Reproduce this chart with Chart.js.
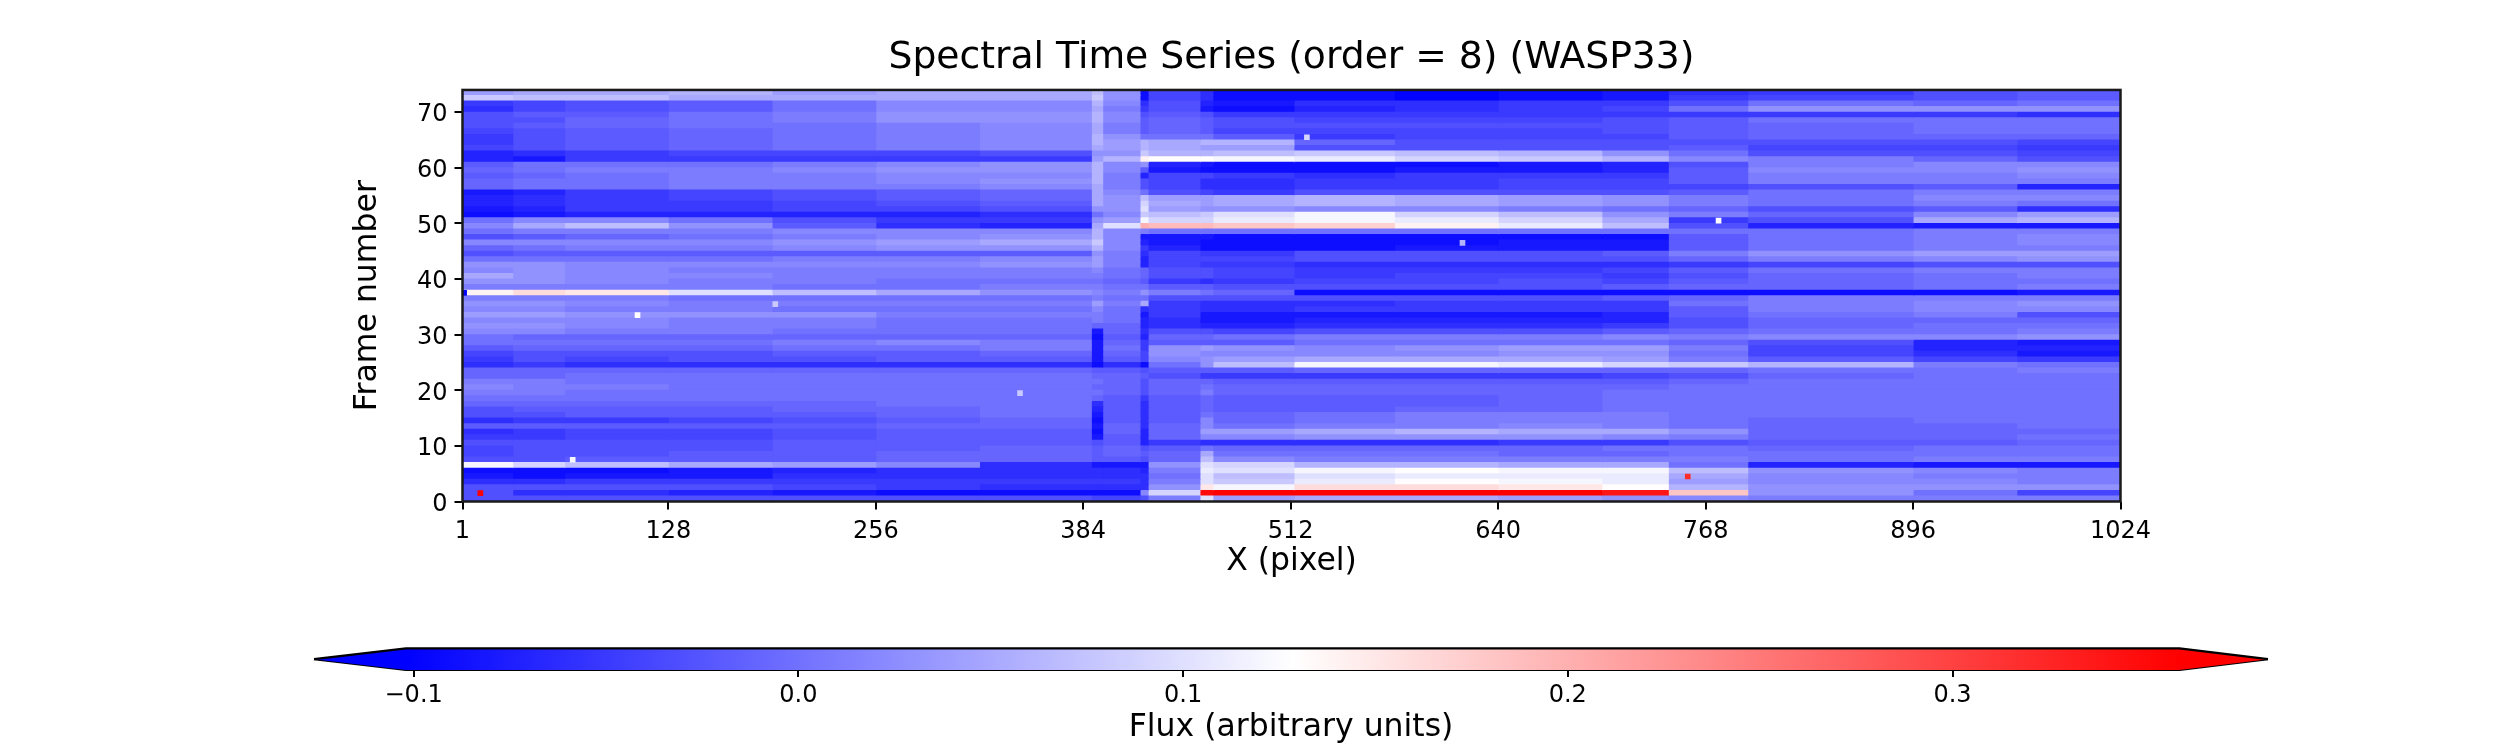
<!DOCTYPE html>
<html>
<head>
<meta charset="utf-8">
<title>Spectral Time Series</title>
<script src="https://cdn.jsdelivr.net/npm/chart.js@4"></script>
<style>
    html, body { margin: 0; padding: 0; background: #fff; width: 2520px; height: 750px; overflow: hidden; }
    canvas { position: absolute; left: 0; }
    #heatmap { top: 0; }
    #colorbar { top: 620px; }
</style>
</head>
<body>
<canvas id="heatmap" width="2520" height="600"></canvas>
<canvas id="colorbar" width="2520" height="130"></canvas>
<script>
// Column edges in X pixel (coarse bins)
const xEdges = [0, 32, 64, 128, 192, 256, 320, 389, 396, 419, 424, 456, 464, 514, 576, 640, 704, 745, 794, 896, 960, 1024];
const xTicks = [1, 128, 256, 384, 512, 640, 768, 896, 1024];
const yTicks = [0, 10, 20, 30, 40, 50, 60, 70];
const cbarTicks = [-0.1, 0, 0.1, 0.2, 0.3];

// Colour limits and extension tips of the colorbar
const vMin = -0.102;
const vMax = 0.359;
const tipMin = -0.1259;
const tipMax = 0.382;

// Frame numbers, top row first
const frames = [73,72,71,70,69,68,67,66,65,64,63,62,61,60,59,58,57,56,55,54,53,52,51,50,49,48,47,46,45,44,43,42,41,40,39,38,37,
    36,35,34,33,32,31,30,29,28,27,26,25,24,23,22,21,20,19,18,17,16,15,14,13,12,11,10,9,8,7,6,5,4,3,2,1,0];

// Flux x 100, one row per frame, one value per column bin
const flux = [
    [4,5,5,6,4,5,5,7,3,-9,-4,-6,-9,-9,-10,-9,-8,-6,-5,-3,-2],
    [8,7,7,5,5,5,5,8,3,-9,-4,-6,-9,-9,-10,-9,-8,-5,-4,-3,-2],
    [-5,-4,-3,-2,0,2,2,6,2,-6,-3,-7,-8,-6,-6,-5,-5,-3,0,-1,0],
    [-6,-4,-3,-2,0,2,2,5,1,-5,-3,-8,-9,-7,-6,-5,-4,0,3,3,3],
    [-3,-2,-2,0,1,3,3,6,2,-3,-2,-3,-5,-5,-5,-5,-5,-5,-5,-5,-6],
    [-3,-3,-1,0,1,3,3,6,2,-2,-1,-2,-3,-4,-4,-4,-3,-2,0,0,0],
    [-3,-2,-1,0,0,1,2,5,1,-2,-1,-2,-3,-3,-3,-3,-3,-2,-1,0,0],
    [-4,-3,-2,-1,0,1,2,5,1,-2,-1,-2,-4,-4,-4,-4,-3,-2,-1,0,0],
    [-5,-3,-2,-1,0,1,2,6,3,0,0,0,-2,-5,-4,-4,-4,-2,-1,-1,-1],
    [-5,-3,-2,-1,0,1,2,6,4,6,5,6,6,-1,-3,-3,-3,-3,-3,-3,-4],
    [-4,-3,-2,-1,0,1,2,5,4,6,5,4,4,-3,-3,-3,-3,-2,-4,-4,-5],
    [-7,-6,-5,-4,-4,-4,-3,3,3,8,6,6,7,8,7,6,3,0,-3,-3,-4],
    [-7,-8,-5,-5,-5,-5,-5,4,6,14,13,13,12,11,9,8,6,2,1,-1,-3],
    [-2,0,0,0,1,2,3,6,2,3,-7,-8,-9,-9,-9,-8,-7,-3,1,2,2],
    [-1,0,1,1,2,3,3,6,2,-2,-8,-9,-9,-9,-8,-8,-7,-2,2,2,3],
    [-2,-1,0,1,1,2,2,6,1,-7,-4,-4,-5,-6,-5,-5,-5,-2,1,1,2],
    [-1,0,0,1,1,2,3,6,1,-3,-4,-6,-6,-5,-5,-4,-4,-2,1,1,1],
    [-1,0,0,1,1,1,2,5,1,-3,-4,-6,-6,-5,-5,-4,-4,-4,-3,-2,-7],
    [-8,-7,-5,-4,-3,-2,-1,5,2,0,-3,-4,-5,-3,-3,-3,-3,-2,0,1,1],
    [-7,-6,-5,-4,-3,-2,-1,5,3,7,4,4,5,6,5,4,3,1,0,2,2],
    [-7,-6,-5,-5,-4,-3,-2,5,3,9,5,4,5,6,5,4,3,1,0,1,0],
    [-8,-7,-5,-5,-4,-4,-3,3,3,10,4,3,3,2,2,1,0,-1,-3,-2,-6],
    [-9,-8,-7,-7,-7,-7,-6,0,2,8,7,8,10,12,9,7,3,1,-1,2,4],
    [0,2,2,0,-3,-5,-5,3,4,12,9,9,11,12,11,9,5,-5,-3,5,6],
    [2,5,7,3,-2,-6,-7,5,10,20,19,19,18,17,14,11,7,-3,-7,-8,-8],
    [0,1,1,1,2,2,2,6,2,1,0,0,0,0,0,0,0,0,0,1,1],
    [-3,-2,-1,0,1,2,3,6,2,-8,-8,-8,-9,-9,-9,-9,-9,-2,0,1,2],
    [2,2,2,2,3,4,5,8,2,-7,-8,-9,-9,-9,-9,-8,-8,-2,0,1,2],
    [-1,0,1,1,2,3,3,6,2,-5,-7,-9,-9,-9,-8,-8,-8,-2,0,1,1],
    [-3,-2,-2,-2,-2,-2,-2,3,1,-6,-4,-5,-5,-3,-3,-3,-2,1,3,4,4],
    [0,0,0,0,1,1,2,4,1,-7,-4,-4,-4,-3,-3,-3,-3,-1,1,2,3],
    [3,3,2,2,2,2,3,4,1,-7,-4,-5,-5,-6,-6,-6,-6,-5,-4,-3,-3],
    [2,3,2,1,1,1,1,2,0,-1,-3,-3,-4,-5,-5,-5,-4,-2,0,1,1],
    [5,3,2,2,1,1,1,1,0,-1,-3,-3,-4,-5,-4,-4,-5,-3,-1,0,1],
    [3,3,2,1,1,0,0,0,-1,-2,-5,-6,-5,-4,-4,-3,-4,-2,-1,0,0],
    [1,1,1,1,0,0,1,1,0,0,-2,-2,-3,-3,-3,-3,-2,-1,-1,0,1],
    [14,16,15,10,7,5,3,2,1,3,1,0,-1,-9,-9,-9,-9,-9,-9,-9,-8],
    [1,1,1,0,0,0,0,1,0,0,-3,-3,-3,-3,-3,-3,-2,-1,1,1,1],
    [3,3,2,1,1,1,1,4,1,5,-5,-6,-6,-6,-5,-5,-5,0,1,2,3],
    [2,2,1,1,0,0,0,2,0,-6,-5,-6,-6,-5,-5,-5,-5,-2,1,2,2],
    [4,4,3,3,3,1,1,1,0,-8,-5,-8,-8,-8,-8,-8,-7,-2,0,1,-3],
    [2,2,2,1,1,0,0,1,0,-7,-6,-8,-8,-7,-7,-7,-7,-3,-1,-1,-1],
    [3,3,2,1,1,0,0,-1,-1,-7,-6,-7,-7,-6,-6,-6,-5,-3,-1,0,0],
    [2,2,1,1,0,0,0,-8,-1,-6,-3,-3,-4,-3,-3,-3,-2,-1,0,0,1],
    [0,-1,-1,-1,-1,-1,-1,-9,-2,-7,-1,-1,0,1,1,1,2,1,2,2,3],
    [0,0,0,0,1,2,1,-8,-1,-5,-2,-2,-2,0,0,0,0,-1,-3,-7,-8],
    [-2,-1,-1,-1,0,0,1,-8,0,-5,3,4,3,2,3,4,4,1,-4,-7,-7],
    [-4,-3,-3,-3,-2,-2,-1,-8,-1,-4,3,2,2,2,2,3,3,0,-4,-6,-8],
    [-5,-3,-4,-3,-3,-2,-2,-8,-2,-4,2,3,4,5,5,5,4,1,-2,-4,-5],
    [-6,-5,-6,-6,-6,-6,-6,-9,-6,-9,0,3,7,12,12,11,9,8,6,1,0],
    [-1,-1,-1,-1,-1,-1,-1,-2,-2,-3,-2,-2,-2,-1,-1,-1,-1,-1,0,0,1],
    [-1,-1,0,0,0,0,0,-1,-1,-2,-3,-5,-5,-5,-5,-5,-4,-3,-1,0,0],
    [1,1,0,0,0,0,0,0,-1,-3,-1,-1,-2,-2,-2,-2,-2,-1,0,0,0],
    [2,1,1,0,0,0,0,-1,-1,-3,-1,0,-1,-1,-1,-1,-1,0,0,0,0],
    [1,1,0,0,0,0,0,0,-1,-3,-1,1,-1,-1,-1,-1,0,0,0,0,0],
    [0,0,0,0,0,0,0,-1,-2,-5,-2,-1,-2,-2,-2,-1,0,0,0,0,0],
    [-1,-1,-1,-1,-1,0,0,-6,-2,-6,-2,-1,-2,-2,-2,-1,0,0,0,0,0],
    [-3,-2,-2,-2,-1,-1,0,-7,-2,-6,-2,-1,-2,-2,-1,-1,0,0,0,0,0],
    [-3,-3,-2,-2,-2,-1,0,-8,-2,-6,-2,0,-1,0,1,1,1,0,0,0,0],
    [-6,-5,-5,-4,-3,-2,-1,-9,-2,-6,-2,2,-1,0,1,1,1,0,-1,0,0],
    [-2,-2,-2,-2,-2,-1,-1,-8,-1,-6,-1,2,0,1,1,2,1,0,-1,-1,0],
    [-6,-5,-4,-4,-3,-2,-2,-9,-1,-7,-1,4,4,5,6,5,5,3,-1,-1,-1],
    [-5,-5,-4,-4,-3,-2,-2,-8,-2,-7,-1,2,2,3,3,3,2,1,-1,-1,0],
    [-3,-3,-3,-3,-2,-2,-2,-3,-2,-7,-5,-6,-6,-6,-6,-5,-5,-3,-2,-2,-1],
    [-4,-3,-3,-3,-2,-2,-1,-2,-1,-3,-2,0,-1,-1,-1,-1,0,0,-1,0,0],
    [-4,-3,-3,-2,-2,-1,-1,-2,-1,-2,-1,5,0,0,0,-1,-1,0,0,0,0],
    [-3,-3,-2,-2,-2,-1,-1,-2,-2,-3,-1,7,2,1,1,1,1,1,0,1,1],
    [12,9,7,5,4,2,-6,-8,-8,-8,3,10,9,6,6,5,5,0,-7,-8,-8],
    [-9,-9,-9,-8,-7,-6,-6,-6,-6,-7,1,11,10,12,13,12,12,7,3,2,1],
    [-8,-9,-8,-8,-6,-6,-6,-6,-6,-6,0,10,7,10,11,11,11,5,2,1,1],
    [-6,-6,-5,-5,-5,-5,-5,-5,-5,-6,1,10,8,11,13,12,11,4,2,2,1],
    [-3,-3,-3,-3,-4,-5,-6,-6,-6,-6,3,15,12,16,16,15,13,6,3,3,3],
    [-3,-6,-6,-7,-8,-9,-9,-9,-9,2,9,35,36,36,36,36,34,18,3,0,-4],
    [-3,-3,-3,-3,-3,-3,-3,-4,-4,-3,1,10,4,5,5,4,3,2,1,1,1]
];

// Isolated hot and cold pixels
const spotX = [12, 2, 109, 194, 69, 345, 757, 776, 618, 522];
const spotFrame = [1, 37, 33, 35, 7, 19, 4, 50, 46, 65];
const spotFlux = [36, -10, 13, 8, 12, 8, 32, 13, 6, 9];

/**
 * Blue-white-red colour map between vMin and vMax
 */
function bwr(value) {
    const t = Math.min(1, Math.max(0, (value - vMin) / (vMax - vMin)));
    if (t < 0.5) {
        const c = Math.round(2 * t * 255);
        return `rgb(${c},${c},255)`;
    }
    const c = Math.round((2 - 2 * t) * 255);
    return `rgb(255,${c},${c})`;
}

const textFont = 'DejaVu Sans';
const tickFont = { family: textFont, size: 24 };
const labelFont = { family: textFont, size: 31.5 };

// Black frame around the plot area
const framePlugin = {
    id: 'plotFrame',
    afterDatasetsDraw(chart) {
        const { ctx, chartArea: a } = chart;
        ctx.save();
        ctx.strokeStyle = '#1a1a1a';
        ctx.lineWidth = 2.5;
        ctx.strokeRect(a.left, a.top, a.right - a.left, a.bottom - a.top);
        ctx.restore();
    }
};

// One stacked dataset per column bin, so each row is a stack of cells
const cellDatasets = xEdges.slice(1).map((edge, col) => ({
    type: 'bar',
    indexAxis: 'y',
    xAxisID: 'x',
    yAxisID: 'y',
    data: frames.map(() => edge - xEdges[col]),
    backgroundColor: ctx => bwr(flux[ctx.dataIndex][col] / 100),
    borderWidth: 0,
    inflateAmount: 0.5,
    barPercentage: 1,
    categoryPercentage: 1
}));

const spotDataset = {
    type: 'scatter',
    xAxisID: 'x',
    yAxisID: 'yFrame',
    order: -1,
    data: spotX.map((x, i) => ({ x: x, y: spotFrame[i] + 0.5 })),
    backgroundColor: spotFlux.map(v => bwr(v / 100)),
    pointStyle: 'rect',
    pointRadius: 4,
    borderWidth: 0
};

new Chart(document.getElementById('heatmap'), {
    data: { labels: frames, datasets: [...cellDatasets, spotDataset] },
    plugins: [framePlugin],
    options: {
        responsive: false,
        animation: false,
        devicePixelRatio: 1,
        layout: { padding: { left: 348.5, right: 399.5, top: 0, bottom: 0 } },
        plugins: {
            legend: { display: false },
            tooltip: { enabled: false },
            title: {
                display: true,
                text: 'Spectral Time Series (order = 8) (WASP33)',
                color: '#000',
                fullSize: false,
                font: { family: textFont, size: 37.7, weight: 'normal' },
                padding: { top: 36, bottom: 8.7 }
            }
        },
        scales: {
            x: {
                type: 'linear',
                stacked: true,
                min: 1,
                max: 1024,
                afterBuildTicks: scale => { scale.ticks = xTicks.map(v => ({ value: v })); },
                afterFit: scale => { scale.height = 98.5; },
                ticks: { autoSkip: false, maxRotation: 0, color: '#000', font: tickFont, padding: 8, callback: v => String(v) },
                grid: { drawOnChartArea: false, color: '#000', lineWidth: 2, tickLength: 8 },
                border: { display: false },
                title: { display: true, text: 'X (pixel)', color: '#000', font: labelFont, padding: { top: 0, bottom: 19 } }
            },
            y: { type: 'category', labels: frames, stacked: true, offset: true, display: false, grid: { offset: true } },
            yFrame: {
                type: 'linear',
                position: 'left',
                min: 0,
                max: 74,
                afterBuildTicks: scale => { scale.ticks = yTicks.map(v => ({ value: v })); },
                afterFit: scale => { scale.width = 114; },
                // blank first line with a small line height nudges the digits down 3px onto the tick
                ticks: { autoSkip: false, color: '#000', font: { family: textFont, size: 24, lineHeight: 0.25 }, padding: 7, callback: v => ['', String(v)] },
                grid: { drawOnChartArea: false, color: '#000', lineWidth: 2, tickLength: 8 },
                border: { display: false },
                title: { display: true, text: 'Frame number', color: '#000', font: labelFont, padding: 0 }
            }
        }
    }
});

// Gradient running from vMin to vMax along the colorbar axis
function cbarFill(ctx) {
    const chart = ctx.chart;
    if (!chart.chartArea) return '#fff';
    const x = chart.scales.x;
    const g = chart.ctx.createLinearGradient(x.getPixelForValue(vMin), 0, x.getPixelForValue(vMax), 0);
    g.addColorStop(0, '#0000ff');
    g.addColorStop(0.5, '#ffffff');
    g.addColorStop(1, '#ff0000');
    return g;
}

new Chart(document.getElementById('colorbar'), {
    data: {
        datasets: [
            {
                type: 'scatter',
                showLine: true,
                data: [{ x: tipMin, y: 0.5 }, { x: vMin, y: 1 }, { x: vMax, y: 1 }, { x: tipMax, y: 0.5 }],
                borderColor: '#000',
                borderWidth: 2.2,
                pointRadius: 0,
                backgroundColor: cbarFill,
                fill: 1,
                clip: false
            },
            {
                type: 'scatter',
                showLine: true,
                data: [{ x: tipMin, y: 0.5 }, { x: vMin, y: 0 }, { x: vMax, y: 0 }, { x: tipMax, y: 0.5 }],
                borderColor: '#000',
                borderWidth: 2.2,
                pointRadius: 0,
                fill: false,
                clip: false
            }
        ]
    },
    options: {
        responsive: false,
        animation: false,
        devicePixelRatio: 1,
        layout: { padding: { left: 314, right: 252, top: 28.4, bottom: 0 } },
        plugins: { legend: { display: false }, tooltip: { enabled: false } },
        scales: {
            x: {
                type: 'linear',
                min: tipMin,
                max: tipMax,
                afterBuildTicks: scale => { scale.ticks = cbarTicks.map(v => ({ value: v })); },
                afterFit: scale => { scale.height = 80; },
                ticks: { autoSkip: false, maxRotation: 0, color: '#000', font: tickFont, padding: 4, callback: v => v.toFixed(1).replace('-', '\u2212') },
                grid: { drawOnChartArea: false, color: '#000', lineWidth: 2, tickLength: 7 },
                border: { display: false },
                title: { display: true, text: 'Flux (arbitrary units)', color: '#000', font: labelFont, padding: { top: 0, bottom: 3 } }
            },
            y: { type: 'linear', min: 0, max: 1, display: false }
        }
    }
});
</script>
</body>
</html>
